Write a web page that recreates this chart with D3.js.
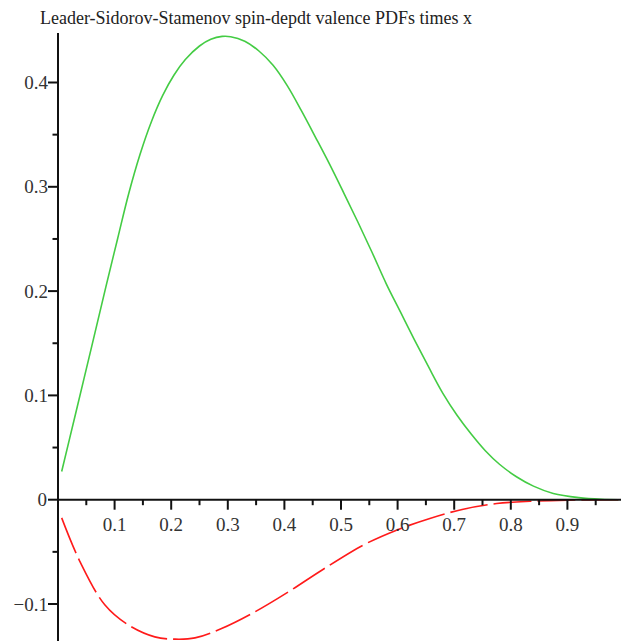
<!DOCTYPE html>
<meta charset="utf-8">
<title>Leader-Sidorov-Stamenov</title>
<body>
<script src="https://cdn.jsdelivr.net/npm/d3@7"></script>
<style>
html, body {
    margin: 0;
    background: #fff;
}

svg {
    display: block;
}

text {
    font-family: "Liberation Serif", "DejaVu Serif", serif;
}
</style>
<script>
var width = 621,
    height = 641;

// x * delta q_v
var upX = [0.0065, 0.03, 0.06, 0.085, 0.105, 0.125, 0.145, 0.165, 0.185, 0.205, 0.225, 0.25, 0.27, 0.29, 0.305, 0.33, 0.355, 0.38, 0.405, 0.43, 0.455, 0.48, 0.505, 0.53, 0.555, 0.58, 0.605, 0.63, 0.655, 0.68, 0.705, 0.73, 0.755, 0.78, 0.81, 0.84, 0.875, 0.92, 0.96, 0.99];
var upY = [0.027, 0.08, 0.148, 0.205, 0.2495, 0.2936, 0.3312, 0.3624, 0.3876, 0.4072, 0.422, 0.435, 0.4414, 0.4442, 0.4439, 0.4395, 0.4302, 0.4165, 0.397, 0.373, 0.3475, 0.3215, 0.294, 0.266, 0.237, 0.207, 0.18, 0.153, 0.127, 0.102, 0.081, 0.063, 0.047, 0.034, 0.022, 0.013, 0.006, 0.002, 0.0004, 0];

var downX = [0.0065, 0.039, 0.083, 0.124, 0.171, 0.207, 0.242, 0.289, 0.348, 0.407, 0.466, 0.539, 0.598, 0.657, 0.716, 0.775, 0.834, 0.9, 0.99];
var downY = [-0.0174, -0.0596, -0.101, -0.12, -0.1315, -0.1337, -0.1325, -0.1235, -0.1075, -0.0884, -0.0676, -0.0436, -0.0292, -0.018, -0.0091, -0.0037, -0.0015, -0.0004, 0];

var xTicks = [0.1, 0.2, 0.3, 0.4, 0.5, 0.6, 0.7, 0.8, 0.9];
var xMinor = [0.05, 0.15, 0.25, 0.35, 0.45, 0.55, 0.65, 0.75, 0.85, 0.95];
var yTicks = [-0.1, 0, 0.1, 0.2, 0.3, 0.4];
var yMinor = [-0.05, 0.05, 0.15, 0.25, 0.35];

var title = "Leader-Sidorov-Stamenov spin-depdt valence PDFs times x";

var x = d3.scaleLinear().domain([0, 1]).range([58, 624]);
var y = d3.scaleLinear().domain([-0.1, 0.4]).range([604, 82.5]);

var svg = d3.select("body").append("svg")
    .attr("width", width)
    .attr("height", height);

svg.append("text")
    .attr("x", 40)
    .attr("y", 24)
    .attr("font-size", 18)
    .attr("fill", "#222")
    .text(title);

var line = d3.line()
    .x(function(d) { return x(d[0]); })
    .y(function(d) { return y(d[1]); })
    .curve(d3.curveCatmullRom.alpha(0.5));

svg.append("path")
    .datum(d3.zip(upX, upY))
    .attr("fill", "none")
    .attr("stroke", "#44cc44")
    .attr("stroke-width", 1.6)
    .attr("d", line);

svg.append("path")
    .datum(d3.zip(downX, downY))
    .attr("fill", "none")
    .attr("stroke", "#ff1a1a")
    .attr("stroke-width", 1.6)
    .attr("stroke-dasharray", "38,6")
    .attr("d", line);

// axes cross at the origin
var xAxis = svg.append("g")
    .attr("transform", "translate(0," + y(0) + ")");

xAxis.append("line")
    .attr("x1", x(0)).attr("x2", width)
    .attr("stroke", "#111").attr("stroke-width", 2);

xAxis.selectAll(".major").data(xTicks).enter().append("line")
    .attr("x1", x).attr("x2", x)
    .attr("y1", 0).attr("y2", 10)
    .attr("stroke", "#111").attr("stroke-width", 2);

xAxis.selectAll(".minor").data(xMinor).enter().append("line")
    .attr("x1", x).attr("x2", x)
    .attr("y1", 0).attr("y2", 5.5)
    .attr("stroke", "#111").attr("stroke-width", 2);

xAxis.selectAll("text").data(xTicks).enter().append("text")
    .attr("x", x)
    .attr("y", 31)
    .attr("text-anchor", "middle")
    .attr("font-size", 19)
    .attr("fill", "#333")
    .text(function(d) { return d3.format(".1f")(d); });

var yAxis = svg.append("g")
    .attr("transform", "translate(" + x(0) + ",0)");

yAxis.append("line")
    .attr("y1", 33).attr("y2", height)
    .attr("stroke", "#111").attr("stroke-width", 2);

yAxis.selectAll(".major").data(yTicks).enter().append("line")
    .attr("y1", y).attr("y2", y)
    .attr("x1", -10).attr("x2", 0)
    .attr("stroke", "#111").attr("stroke-width", 2);

yAxis.selectAll(".minor").data(yMinor).enter().append("line")
    .attr("y1", y).attr("y2", y)
    .attr("x1", -5.5).attr("x2", 0)
    .attr("stroke", "#111").attr("stroke-width", 2);

yAxis.selectAll("text").data(yTicks).enter().append("text")
    .attr("x", function(d) { return d === 0 ? -11 : -10; })
    .attr("y", y)
    .attr("dy", "0.35em")
    .attr("text-anchor", "end")
    .attr("font-size", 19)
    .attr("fill", "#333")
    .text(function(d) { return d === 0 ? "0" : d3.format(".1f")(d).replace("-", "\u2212"); });
</script>
